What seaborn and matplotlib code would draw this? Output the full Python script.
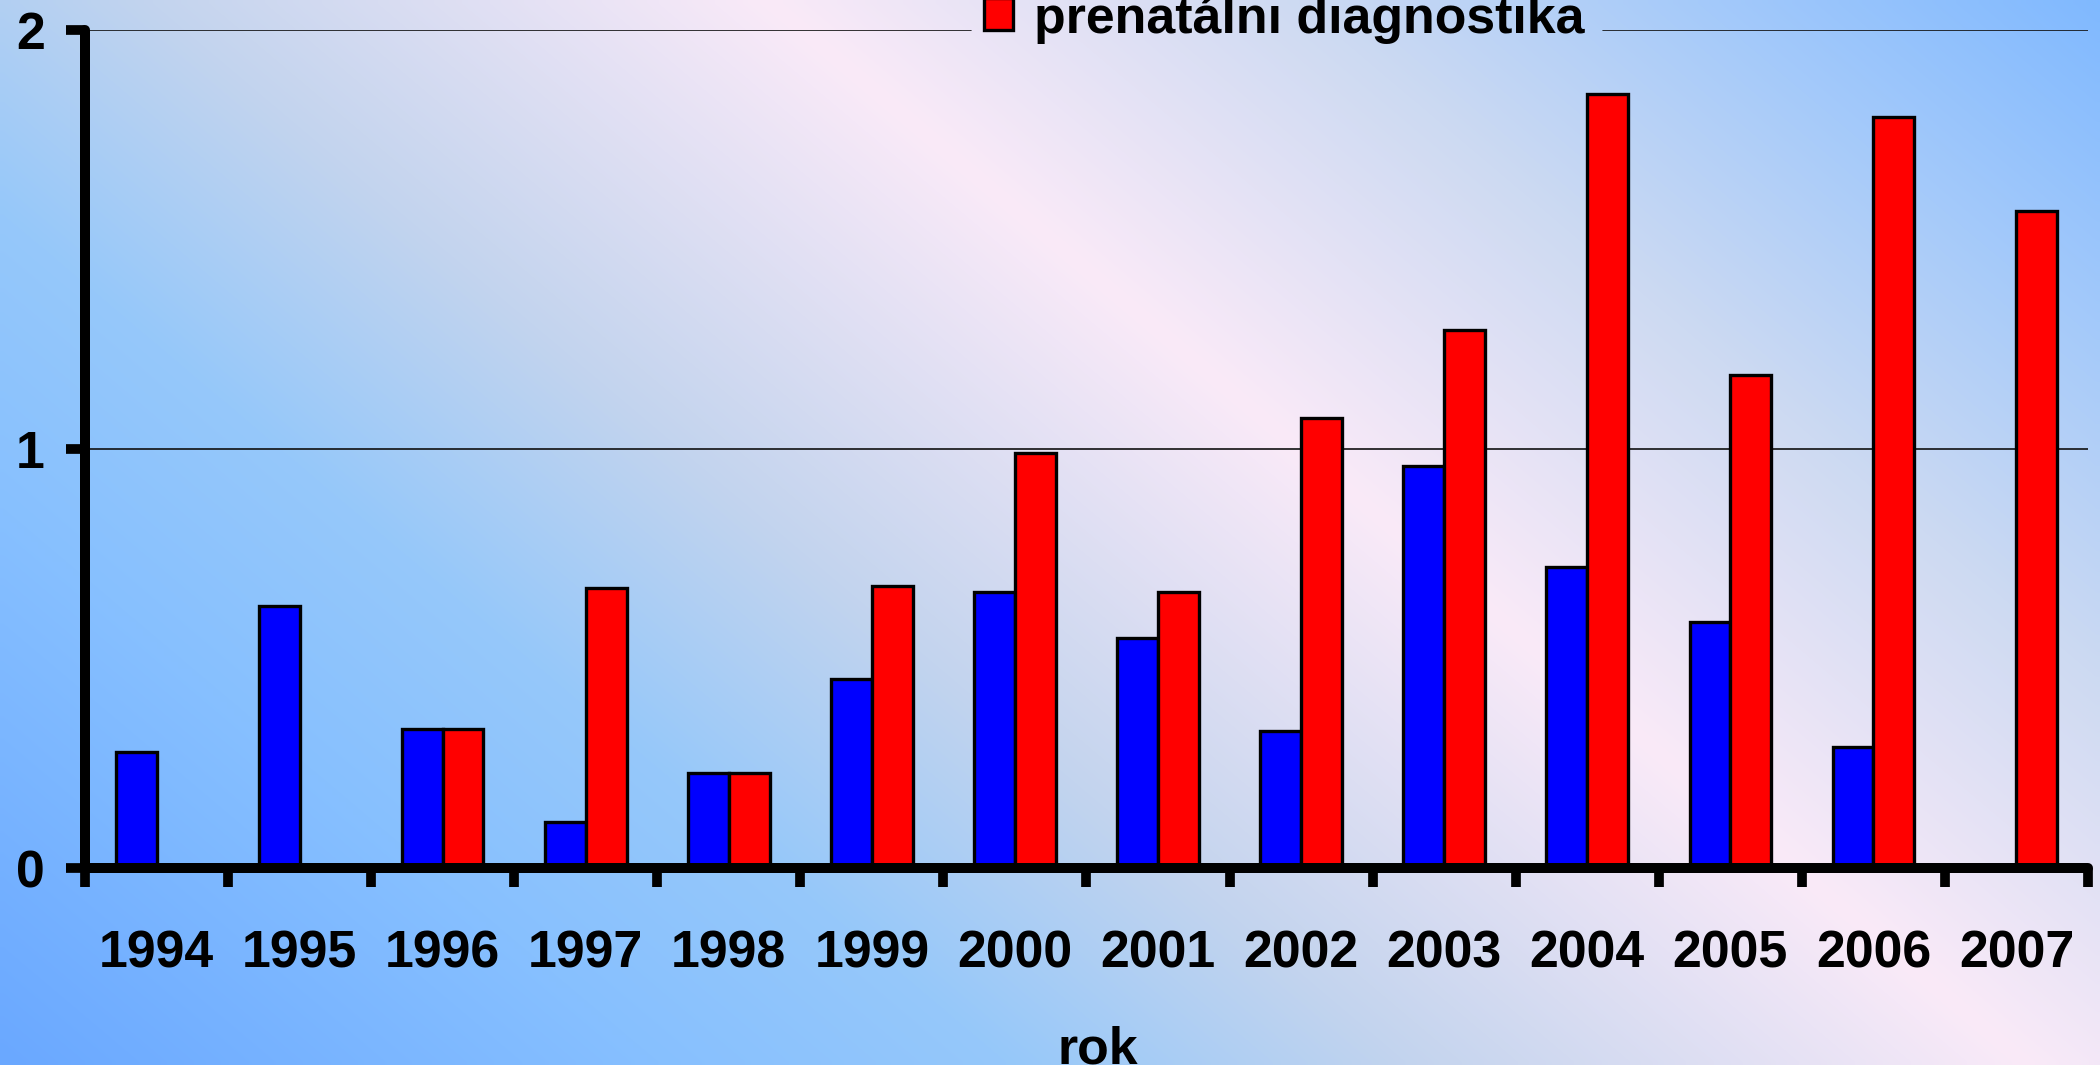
import numpy as np
import pandas as pd
import matplotlib
matplotlib.use("Agg")
import matplotlib.pyplot as plt
from matplotlib.patches import Patch
import seaborn as sns

# ---- data ----
years = ["1994", "1995", "1996", "1997", "1998", "1999", "2000",
         "2001", "2002", "2003", "2004", "2005", "2006", "2007"]
series_blue = [0.278, 0.626, 0.332, 0.109, 0.227, 0.451, 0.658,
               0.550, 0.326, 0.959, 0.719, 0.588, 0.288, 0.0]
series_red = [0.0, 0.0, 0.332, 0.668, 0.227, 0.674, 0.991,
              0.658, 1.074, 1.285, 1.847, 1.176, 1.793, 1.569]
blue_name = "bez prenatalni diagnostiky"
red_name = "prenatálni diagnostika"
y_ticks = [0, 1, 2]
x_label = "rok"

df = pd.DataFrame({
    "rok": years * 2,
    "value": series_blue + series_red,
    "serie": [blue_name] * len(years) + [red_name] * len(years),
})

sns.set_theme(style="white")
plt.rcParams["font.family"] = ["Liberation Sans", "DejaVu Sans"]
plt.rcParams["font.weight"] = "bold"
for k in ["text.color", "axes.labelcolor", "xtick.color", "ytick.color"]:
    plt.rcParams[k] = "black"

W, H = 2100, 1065
fig = plt.figure(figsize=(W / 100, H / 100), dpi=100)

# ---- gradient background ----
bg = fig.add_axes([0, 0, 1, 1], zorder=-10)
gx, gy = np.meshgrid(np.linspace(0, W, 300), np.linspace(0, H, 160))
s = gx - 1.18 * gy
stops = [-1257, -600, -250, 150, 770, 1300, 1700, 2100]
cols = np.array([(106, 168, 255), (135, 192, 255), (150, 200, 250),
                 (195, 212, 238), (250, 234, 248), (205, 218, 242),
                 (165, 202, 250), (128, 185, 255)]) / 255.0
img = np.dstack([np.interp(s, stops, cols[:, k]) for k in range(3)])
bg.imshow(img, extent=[0, W, H, 0], aspect="auto", interpolation="bilinear")
bg.set_axis_off()

# ---- main axes ----
left, right = 85 / W, 2088 / W
bottom, top = (H - 868) / H, (H - 30) / H
ax = fig.add_axes([left, bottom, right - left, top - bottom])
ax.patch.set_alpha(0)

sns.barplot(data=df, x="rok", y="value", hue="serie", order=years,
            hue_order=[blue_name, red_name], palette=["#0000ff", "#ff0000"],
            saturation=1, width=0.57, gap=0, edgecolor="black",
            linewidth=2.4, legend=False, ax=ax)

ax.set_xlim(-0.5, len(years) - 0.5)
ax.set_ylim(y_ticks[0], y_ticks[-1])

# gridlines (top one interrupted by legend)
gap_l, gap_r = (971 - 85) / 2003, (1603 - 85) / 2003
for yv in y_ticks[1:]:
    if yv == y_ticks[-1]:
        ax.axhline(yv, 0, gap_l, color="#111111", lw=1.2, zorder=0.5)
        ax.axhline(yv, gap_r, 1, color="#111111", lw=1.2, zorder=0.5)
    else:
        ax.axhline(yv, color="#111111", lw=1.2, zorder=0.5)

for side in ["top", "right"]:
    ax.spines[side].set_visible(False)
for side in ["left", "bottom"]:
    ax.spines[side].set_linewidth(7.2)
    ax.spines[side].set_color("black")
    ax.spines[side].set_capstyle("round")
    ax.spines[side].set_zorder(5)

ax.set_yticks(y_ticks)
ax.set_yticklabels([str(v) for v in y_ticks])
ax.tick_params(axis="y", direction="out", length=14, width=7, color="black",
               pad=15, labelsize=37.4, left=True, labelcolor="black")
ax.set_xticks(range(len(years)))
ax.set_xticklabels(years)
ax.set_xticks(np.arange(-0.5, len(years), 1), minor=True)
ax.tick_params(axis="x", which="major", length=0, pad=44, labelsize=37.4,
               labelcolor="black")
ax.tick_params(axis="x", which="minor", direction="out", length=14, width=7,
               color="black", bottom=True)
for lab in ax.get_xticklabels() + ax.get_yticklabels():
    lab.set_fontweight("bold")

ax.set_ylabel("")
ax.set_xlabel(x_label, fontsize=37.4, fontweight="bold", labelpad=34,
              color="black")
ax.xaxis.label.set_x((1098 - 85) / 2003)

leg = fig.legend(handles=[Patch(facecolor="#ff0000", edgecolor="black",
                                linewidth=2.4, label=red_name)],
                 loc="center", bbox_to_anchor=(1284 / W, 1 - 19 / H),
                 frameon=False, fontsize=37.4, handlelength=0.57,
                 handleheight=0.57, handletextpad=0.39, borderpad=0,
                 labelcolor="black")
for t in leg.get_texts():
    t.set_fontweight("bold")

fig.savefig("out.png", dpi=100)
